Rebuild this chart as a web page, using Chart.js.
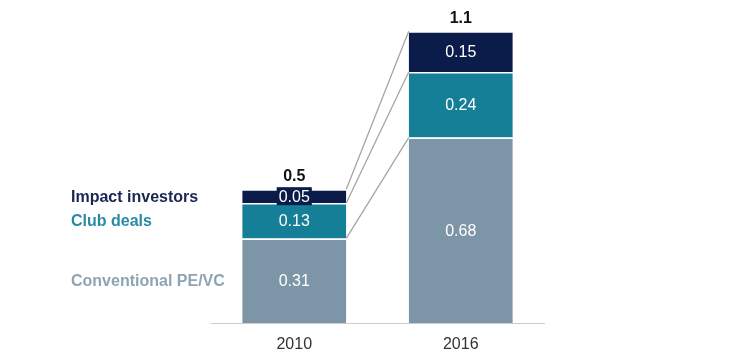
<!DOCTYPE html>
<html>
<head>
<meta charset="utf-8">
<script src="https://cdn.jsdelivr.net/npm/chart.js@4.4.1/dist/chart.umd.min.js"></script>
<style>
  html, body { margin: 0; padding: 0; background: #ffffff; }
  #wrap { width: 750px; height: 360px; position: relative; }
</style>
</head>
<body>
<div id="wrap"><canvas id="c" width="750" height="360"></canvas></div>
<script>
const categories = ['2010', '2016'];
const conventional = [0.31, 0.68];
const clubDeals = [0.13, 0.24];
const impactInvestors = [0.05, 0.15];
const totalLabels = ['0.5', '1.1'];
const seriesNames = ['Conventional PE/VC', 'Club deals', 'Impact investors'];

const barColors = ['#7d96a7', '#167f98', '#0c1c4a'];
const labelColors = ['#8ea4b4', '#2a8ba4', '#1b2551'];
const FONT = '"Liberation Sans", Arial, sans-serif';

const overlay = {
  id: 'overlay',
  afterDatasetsDraw(chart) {
    const ctx = chart.ctx;
    const metas = chart.data.datasets.map((d, i) => chart.getDatasetMeta(i));
    ctx.save();
    // connecting lines
    ctx.strokeStyle = '#a5a5a5';
    ctx.lineWidth = 1.3;
    metas.forEach(meta => {
      const a = meta.data[0], b = meta.data[1];
      ctx.beginPath();
      ctx.moveTo(a.x + a.width / 2, a.y);
      ctx.lineTo(b.x - b.width / 2, b.y);
      ctx.stroke();
    });
    // segment value labels
    ctx.textAlign = 'center';
    ctx.textBaseline = 'middle';
    ctx.font = '16px ' + FONT;
    metas.forEach((meta, di) => {
      const ds = chart.data.datasets[di];
      meta.data.forEach((bar, i) => {
        const txt = String(ds.data[i]);
        const cy = (bar.y + bar.base) / 2;
        const h = Math.abs(bar.base - bar.y);
        if (h < 18) {
          const w = ctx.measureText(txt).width + 4;
          ctx.fillStyle = barColors[di];
          ctx.fillRect(bar.x - w / 2, cy - 9, w, 18);
        }
        ctx.fillStyle = '#ffffff';
        ctx.fillText(txt, bar.x, cy + 1);
      });
    });
    // totals
    const top = metas[metas.length - 1];
    ctx.font = 'bold 16px ' + FONT;
    ctx.fillStyle = '#111111';
    ctx.textBaseline = 'alphabetic';
    top.data.forEach((bar, i) => {
      ctx.fillText(totalLabels[i], bar.x, bar.y - 8);
    });
    // series labels on the left, aligned with the first bar's segments
    ctx.textAlign = 'left';
    ctx.textBaseline = 'middle';
    metas.forEach((meta, di) => {
      const bar = meta.data[0];
      const cy = (bar.y + bar.base) / 2;
      ctx.fillStyle = labelColors[di];
      ctx.fillText(chart.data.datasets[di].label, 71, cy + 1);
    });
    ctx.restore();
  }
};

const datasets = [conventional, clubDeals, impactInvestors].map((vals, i) => ({
  label: seriesNames[i],
  data: vals,
  backgroundColor: barColors[i],
  borderColor: '#ffffff',
  borderWidth: { top: 1.5, left: 0, right: 0, bottom: 0 },
  borderSkipped: false,
  categoryPercentage: 0.625,
  barPercentage: 1
}));

new Chart(document.getElementById('c'), {
  type: 'bar',
  data: { labels: categories, datasets: datasets },
  options: {
    responsive: false,
    animation: false,
    devicePixelRatio: 1,
    layout: { padding: { left: 211, right: 206, top: 23, bottom: 0 } },
    plugins: { legend: { display: false }, tooltip: { enabled: false } },
    scales: {
      x: {
        stacked: true,
        grid: { display: false, drawTicks: false },
        border: { display: true, color: '#cccccc', width: 1 },
        ticks: { color: '#333333', font: { family: FONT, size: 16 }, padding: 12 },
        afterFit(scale) { scale.height = 37; }
      },
      y: {
        stacked: true,
        display: false,
        min: 0,
        max: 1.1
      }
    }
  },
  plugins: [overlay]
});
</script>
</body>
</html>
